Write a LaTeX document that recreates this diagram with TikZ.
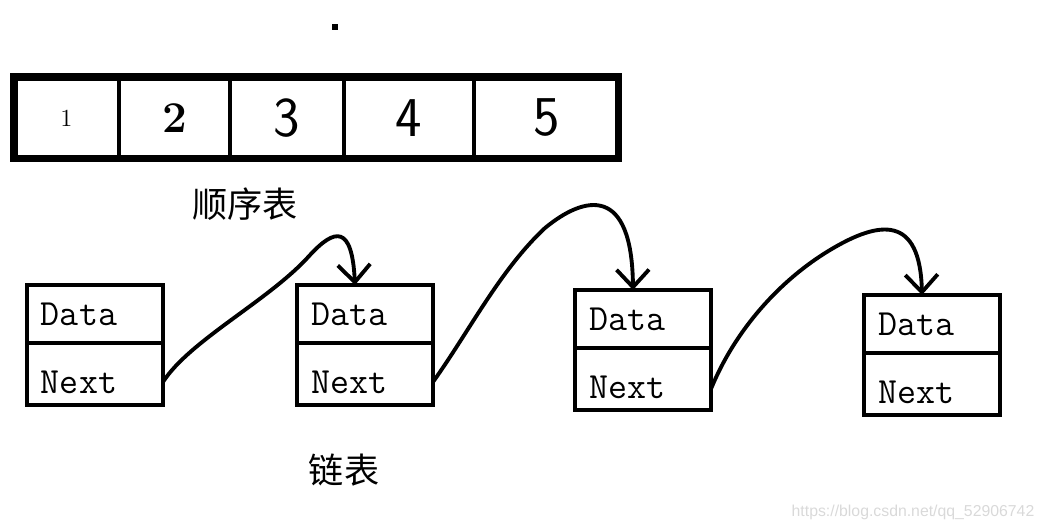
\documentclass[tikz,border=0pt]{standalone}
\usepackage{fontspec}
\usepackage{tikz}
\usetikzlibrary{arrows.meta,positioning}
\newfontfamily\cjk{Noto Sans CJK SC}
\newfontfamily\wmfont{Liberation Sans}

\begin{document}
\begin{tikzpicture}[x=0.02cm, y=-0.02cm,
    cell/.style={draw, line width=2.2pt, minimum height=1.64cm, inner sep=0pt, outer sep=0pt},
    listbox/.style={draw, line width=2.5pt, minimum width=2.72cm, text width=2.16cm, outer sep=0pt,
        inner xsep=0.28cm, align=left, font=\ttfamily\fontsize{21}{22}\selectfont},
    databox/.style={listbox, minimum height=1.16cm},
    nextbox/.style={listbox, minimum height=1.24cm, text height=0.77cm, text depth=0pt},
    link/.style={line width=2.2pt, line cap=round, -{Straight Barb[length=0.35cm,width=0.65cm]}}]
    \useasboundingbox (0,0) rectangle (1043,530);

    % Dot
    \fill (332,24) rectangle (338,30);

    % Array
    \node[cell, minimum width=2.1cm, anchor=north west, font=\fontsize{14}{14}\selectfont] (c1) at (14,77) {1};
    \node[cell, minimum width=2.22cm, right=0pt of c1, font=\bfseries\fontsize{25}{25}\selectfont] (c2) {2};
    \node[cell, minimum width=2.28cm, right=0pt of c2, font=\sffamily\fontsize{32}{32}\selectfont] (c3) {3};
    \node[cell, minimum width=2.6cm, right=0pt of c3, font=\sffamily\fontsize{32}{32}\selectfont] (c4) {4};
    \node[cell, minimum width=2.9cm, right=0pt of c4, font=\sffamily\fontsize{32}{32}\selectfont] (c5) {5};
    \draw[line width=4pt] (c1.north west) rectangle (c5.south east);
    \node[font=\cjk\fontsize{20}{20}\selectfont] (seqlabel) at (245,204) {顺序表};

    % Linked list
    \node[databox, anchor=north west] (d1) at (27,285) {Data};
    \node[nextbox, below=0pt of d1] (n1) {Next};
    \node[databox, anchor=north west] (d2) at (297,285) {Data};
    \node[nextbox, below=0pt of d2] (n2) {Next};
    \node[databox, anchor=north west] (d3) at (575,290) {Data};
    \node[nextbox, below=0pt of d3] (n3) {Next};
    \node[databox, anchor=north west] (d4) at (864,295) {Data};
    \node[nextbox, below=0pt of d4] (n4) {Next};
    \node[font=\cjk\fontsize{20}{20}\selectfont] (listlabel) at (344,470) {链表};

    % Links
    \draw[link] ([yshift=-0.16cm]n1.east) .. controls (190,340) and (270,300) .. (310,255)
        .. controls (335,228) and (352,225) .. ([xshift=-0.2cm]d2.north);
    \draw[link] ([yshift=-0.16cm]n2.east) .. controls (470,330) and (500,270) .. (545,228)
        .. controls (585,195) and (632,185) .. ([xshift=-0.2cm]d3.north);
    \draw[link] ([yshift=-0.2cm]n3.east) .. controls (735,330) and (780,280) .. (830,250)
        .. controls (880,220) and (920,215) .. ([xshift=-0.2cm]d4.north);

    % Watermark
    \node[font=\wmfont\fontsize{9}{9}\selectfont, text=gray!30] (wm) at (913,512) {https://blog.csdn.net/qq\_52906742};
\end{tikzpicture}
\end{document}
